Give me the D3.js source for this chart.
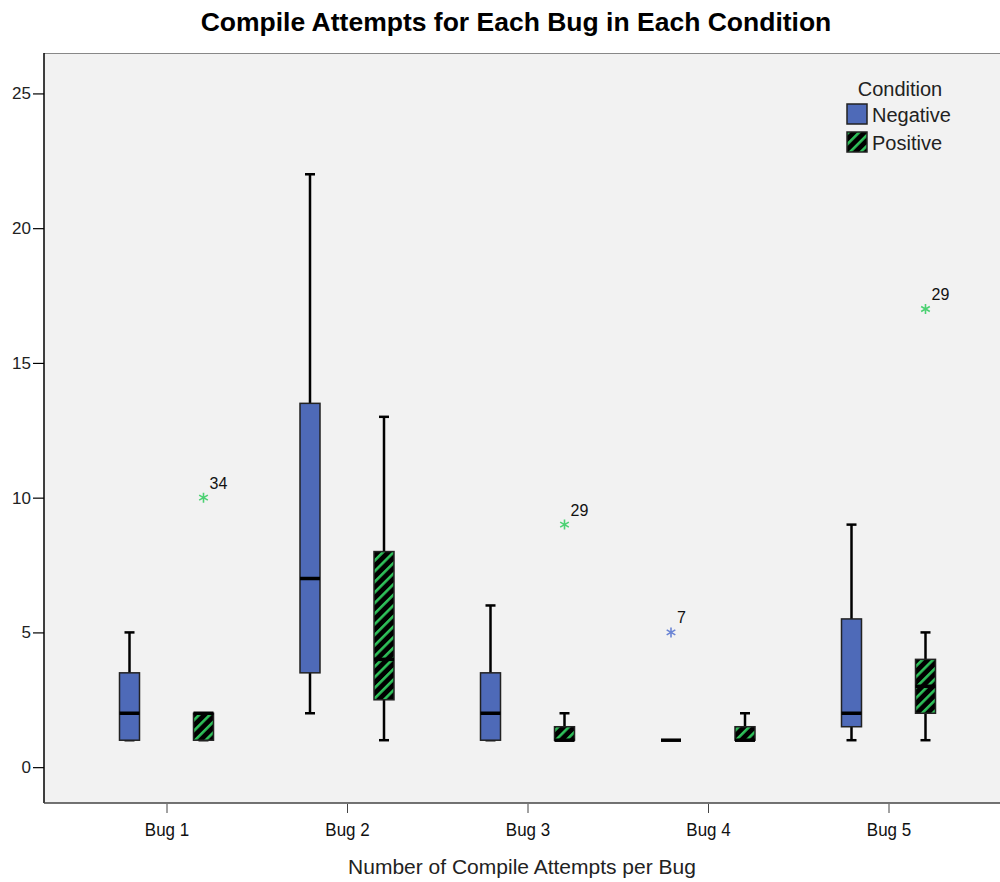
<!DOCTYPE html>
<html>
<head>
<meta charset="utf-8">
<script src="https://cdn.jsdelivr.net/npm/d3@7"></script>
<style>
  body { margin: 0; background: #fff; }
  text { font-family: "Liberation Sans", Arial, sans-serif; }
</style>
</head>
<body>
<div id="chart"></div>
<script>
// Data
var bugs = ["Bug 1", "Bug 2", "Bug 3", "Bug 4", "Bug 5"];
var conditions = ["Negative", "Positive"];
var yTicks = [0, 5, 10, 15, 20, 25];

// [whiskerLow, q1, median, q3, whiskerHigh] per bug
var negativeStats = [
    [1, 1, 2, 3.5, 5],
    [2, 3.5, 7, 13.5, 22],
    [1, 1, 2, 3.5, 6],
    [1, 1, 1, 1, 1],
    [1, 1.5, 2, 5.5, 9]
];
var positiveStats = [
    [1, 1, 2, 2, 2],
    [1, 2.5, 4, 8, 13],
    [1, 1, 1, 1.5, 2],
    [1, 1, 1, 1.5, 2],
    [1, 2, 3, 4, 5]
];

// extreme outliers: bug, condition, value, case label
var outliers = [
    { bug: "Bug 1", cond: "Positive", value: 10, label: "34" },
    { bug: "Bug 3", cond: "Positive", value: 9, label: "29" },
    { bug: "Bug 4", cond: "Negative", value: 5, label: "7" },
    { bug: "Bug 5", cond: "Positive", value: 17, label: "29" }
];

window.onload = function() {
    boxChart();
};

function boxChart() {
    var w = 1000, h = 882;
    var left = 44, top = 53, bottom = 803, right = 1012;

    var blue = "#4e6ab8";
    var green = "#2fc15a";

    var svg = d3.select("#chart")
                .append("svg")
                .attr("width", w)
                .attr("height", h);

    // diagonal hatch for the Positive condition
    var defs = svg.append("defs");
    var pat = defs.append("pattern")
        .attr("id", "stripes")
        .attr("patternUnits", "userSpaceOnUse")
        .attr("width", 7.5)
        .attr("height", 7.5)
        .attr("patternTransform", "rotate(45)");
    pat.append("rect").attr("width", 7.5).attr("height", 7.5).attr("fill", "#000");
    pat.append("rect").attr("x", 0).attr("width", 2.6).attr("height", 7.5).attr("fill", green);

    // scales
    var y = d3.scaleLinear().domain([-1.33, 26.5]).range([bottom, top]);
    var x = d3.scaleBand().domain(bugs).range([left + 123 - 90.25, left + 123 - 90.25 + 180.5 * 5]);
    var offset = d3.scaleOrdinal().domain(conditions).range([-37.5, 36.5]);
    var boxW = 20;

    function cx(bug, cond) {
        return x(bug) + x.bandwidth() / 2 + offset(cond);
    }

    // plot background
    svg.append("rect")
        .attr("x", left).attr("y", top)
        .attr("width", right - left).attr("height", bottom - top)
        .attr("fill", "#f2f2f2");
    svg.append("line")
        .attr("x1", left).attr("x2", right).attr("y1", top + 0.5).attr("y2", top + 0.5)
        .attr("stroke", "#888").attr("stroke-width", 1);

    // axes
    var yAxis = d3.axisLeft(y).tickValues(yTicks).tickSize(11).tickPadding(2).tickSizeOuter(0);
    var gy = svg.append("g").attr("transform", "translate(" + left + ",0)").call(yAxis);
    gy.select(".domain").attr("stroke", "#000").attr("stroke-width", 1.5)
        .attr("d", "M0," + top + "V" + bottom);
    gy.selectAll(".tick line").attr("stroke", "#000").attr("stroke-width", 1.2);
    gy.selectAll(".tick text").attr("font-size", 17).attr("fill", "#222");

    var xAxis = d3.axisBottom(x).tickSize(10).tickSizeOuter(0);
    var gx = svg.append("g").attr("transform", "translate(0," + bottom + ")").call(xAxis);
    gx.select(".domain").attr("stroke", "#444").attr("stroke-width", 1.5)
        .attr("d", "M" + left + ",0H" + right);
    gx.selectAll(".tick line").attr("stroke", "#444").attr("y1", 1);
    gx.selectAll(".tick text").attr("font-size", 17).attr("fill", "#111")
        .attr("y", 24).attr("dy", "0.32em")
        .attr("transform", "scale(1,1.12)");

    // boxes
    var series = [
        { cond: "Negative", stats: negativeStats, fill: blue },
        { cond: "Positive", stats: positiveStats, fill: "url(#stripes)" }
    ];

    series.forEach(function(s) {
        var g = svg.append("g");
        var items = g.selectAll("g.box")
            .data(s.stats.map(function(d, i) { return { bug: bugs[i], v: d }; }))
            .enter().append("g").attr("class", "box");

        // whiskers
        items.append("line")
            .attr("x1", function(d) { return cx(d.bug, s.cond); })
            .attr("x2", function(d) { return cx(d.bug, s.cond); })
            .attr("y1", function(d) { return y(d.v[0]); })
            .attr("y2", function(d) { return y(d.v[4]); })
            .attr("stroke", "#000").attr("stroke-width", 2.5)
            .attr("display", function(d) { return d.v[0] === d.v[4] ? "none" : null; });
        [0, 4].forEach(function(k) {
            items.append("line")
                .attr("x1", function(d) { return cx(d.bug, s.cond) - 5; })
                .attr("x2", function(d) { return cx(d.bug, s.cond) + 5; })
                .attr("y1", function(d) { return y(d.v[k]); })
                .attr("y2", function(d) { return y(d.v[k]); })
                .attr("stroke", "#000").attr("stroke-width", 2.5)
                .attr("display", function(d) { return d.v[0] === d.v[4] ? "none" : null; });
        });

        // box
        items.append("rect")
            .attr("x", function(d) { return cx(d.bug, s.cond) - boxW / 2; })
            .attr("y", function(d) { return y(d.v[3]); })
            .attr("width", boxW)
            .attr("height", function(d) { return Math.max(0, y(d.v[1]) - y(d.v[3])); })
            .attr("fill", s.fill)
            .attr("stroke", "#222").attr("stroke-width", 1.5);

        // median
        items.append("line")
            .attr("x1", function(d) { return cx(d.bug, s.cond) - boxW / 2; })
            .attr("x2", function(d) { return cx(d.bug, s.cond) + boxW / 2; })
            .attr("y1", function(d) { return y(d.v[2]); })
            .attr("y2", function(d) { return y(d.v[2]); })
            .attr("stroke", "#000").attr("stroke-width", 3.5);
    });

    // outliers
    var star = d3.symbol().type(d3.symbolAsterisk).size(70);
    var og = svg.append("g");
    og.selectAll("path")
        .data(outliers).enter().append("path")
        .attr("d", star)
        .attr("transform", function(d) {
            return "translate(" + cx(d.bug, d.cond) + "," + y(d.value) + ")";
        })
        .attr("fill", "none")
        .attr("stroke", function(d) { return d.cond === "Negative" ? "#6a84d4" : "#4cd173"; })
        .attr("stroke-width", 1.6);
    og.selectAll("text")
        .data(outliers).enter().append("text")
        .attr("x", function(d) { return cx(d.bug, d.cond) + 6; })
        .attr("y", function(d) { return y(d.value) - 9; })
        .attr("font-size", 16)
        .attr("fill", "#111")
        .text(function(d) { return d.label; });

    // title and axis label
    svg.append("text")
        .attr("x", 516).attr("y", 31)
        .attr("text-anchor", "middle")
        .attr("font-size", 26.5).attr("font-weight", "bold")
        .attr("fill", "#000")
        .text("Compile Attempts for Each Bug in Each Condition");
    svg.append("text")
        .attr("x", 522).attr("y", 874)
        .attr("text-anchor", "middle")
        .attr("font-size", 21)
        .attr("fill", "#222")
        .text("Number of Compile Attempts per Bug");

    // legend
    var lg = svg.append("g");
    lg.append("text")
        .attr("x", 900).attr("y", 96)
        .attr("text-anchor", "middle")
        .attr("font-size", 20).attr("fill", "#222")
        .text("Condition");
    var fills = [blue, "url(#stripes)"];
    var rows = lg.selectAll("g.row")
        .data(conditions).enter().append("g").attr("class", "row")
        .attr("transform", function(d, i) { return "translate(847," + (104 + i * 28) + ")"; });
    rows.append("rect")
        .attr("width", 20).attr("height", 20)
        .attr("fill", function(d, i) { return fills[i]; })
        .attr("stroke", "#222").attr("stroke-width", 1.5);
    rows.append("text")
        .attr("x", 25).attr("y", 18)
        .attr("font-size", 20).attr("fill", "#222")
        .text(function(d) { return d; });
}
</script>
</body>
</html>
